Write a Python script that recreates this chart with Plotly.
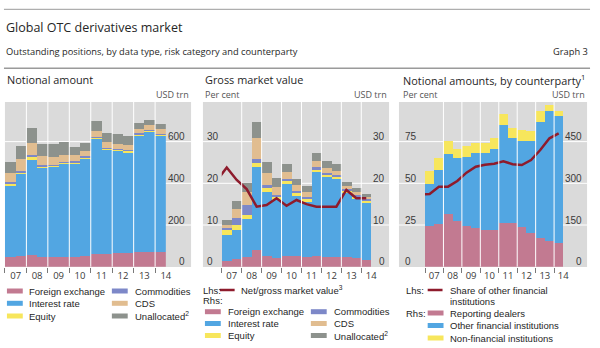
import plotly.graph_objects as go

W, H = 600, 348

# Half-year periods shown on every panel
periods = ["2007 H1", "2007 H2", "2008 H1", "2008 H2", "2009 H1", "2009 H2",
           "2010 H1", "2010 H2", "2011 H1", "2011 H2", "2012 H1", "2012 H2",
           "2013 H1", "2013 H2", "2014 H1"]
year_labels = ["07", "08", "09", "10", "11", "12", "13", "14"]

# Notional amount by risk category, USD trn
na_fx = [46, 53, 56, 48, 45, 46, 48, 53, 59, 59, 64, 64, 69, 69, 70]
na_ir = [345, 392, 458, 428, 435, 447, 448, 467, 554, 501, 491, 485, 560, 579, 557]
na_eq = [8, 8, 10, 6, 6, 6, 6, 6, 7, 6, 6, 6, 7, 7, 7]
na_com = [7, 8, 13, 4, 4, 3, 3, 3, 3, 3, 3, 3, 3, 2, 2]
na_cds = [45, 58, 58, 45, 36, 34, 31, 26, 28, 28, 25, 26, 22, 23, 23]
na_unal = [52, 60, 68, 58, 63, 62, 38, 40, 48, 43, 46, 45, 27, 24, 26]

# Gross market value by risk category, USD trn
gm_fx = [1.3, 1.8, 2.3, 4.1, 2.5, 2.1, 2.5, 2.5, 2.3, 2.6, 2.3, 2.3, 2.4, 2.0, 1.7]
gm_ir = [6.3, 7.0, 9.1, 19.7, 15.5, 14.0, 17.3, 14.5, 13.2, 20.0, 19.1, 18.8, 15.2, 14.2, 13.5]
gm_eq = [1.1, 1.1, 1.1, 1.1, 0.9, 0.7, 0.7, 0.6, 0.7, 0.7, 0.6, 0.6, 0.7, 0.7, 0.7]
gm_com = [0.7, 1.9, 2.2, 0.9, 0.7, 0.5, 0.5, 0.5, 0.5, 0.5, 0.4, 0.4, 0.4, 0.3, 0.3]
gm_cds = [0.7, 2.0, 3.2, 5.1, 2.9, 1.9, 1.7, 1.4, 1.3, 1.6, 1.2, 0.9, 0.7, 0.7, 0.6]
gm_unal = [1.0, 1.9, 2.1, 3.9, 2.5, 2.1, 1.9, 1.6, 1.4, 1.8, 1.8, 1.7, 0.8, 0.9, 0.6]

# Net/gross market value ratio, per cent (series begins in 2006 H2)
ratio_periods = ["2006 H2"] + periods
net_gross = [20.6, 23.8, 20.8, 18.6, 14.4, 14.8, 16.4, 14.6, 16.0, 15.0,
             14.4, 14.4, 14.4, 18.4, 16.4, 16.4]

# Notional amounts by counterparty, USD trn
cp_dealers = [146, 154, 188, 166, 146, 138, 132, 132, 158, 156, 142, 120, 102, 92, 84]
cp_other_fi = [152, 194, 218, 224, 248, 272, 278, 290, 352, 308, 312, 334, 420, 468, 458]
cp_nonfin = [46, 42, 48, 34, 40, 36, 34, 40, 40, 36, 38, 34, 38, 22, 18]

# Share of other financial institutions, per cent
share_ofi = [43.2, 43.6, 48.0, 48.0, 51.4, 56.4, 60.0, 61.2, 61.8, 63.2,
             61.5, 61.0, 64.0, 70.0, 77.0, 80.0]

# Axis tick values
na_ticks = [0, 200, 400, 600]
gm_ticks = [0, 10, 20, 30]
cp_ticks = [0, 150, 300, 450]
pct_ticks = [0, 25, 50, 75]

C_FX = "#c27a91"
C_IR = "#52a6e2"
C_EQ = "#f7e65c"
C_COM = "#7d88c8"
C_CDS = "#e1bd90"
C_UNAL = "#8d928d"
C_LINE = "#8e1b2c"
C_BG = "#dadada"
TXT = "#262626"
TICK = "#3a3a3a"
F_TITLE = "Open Sans"
F_SMALL = "Liberation Sans"


def pos(label):
    """Bar index of a half-year label such as '2008 H2'."""
    year, half = label.split()
    return (int(year) - 2007) * 2 + (int(half[1]) - 1)


xs = [pos(p) for p in periods]
ratio_x = [pos(p) for p in ratio_periods]
year_centers = [pos("20" + y + " H1") + 0.5 for y in year_labels]
year_bounds = [c - 1 for c in year_centers]


def px(x):
    return x / W


def py(y):
    return 1 - y / H


fig = go.Figure()


def add_stack(xref, yref, series):
    for vals, color, name in series:
        fig.add_trace(go.Bar(x=xs, y=vals, marker=dict(color=color, line=dict(width=0)),
                             name=name, xaxis=xref, yaxis=yref, showlegend=False))


add_stack("x", "y", [(na_fx, C_FX, "Foreign exchange"), (na_ir, C_IR, "Interest rate"),
                     (na_eq, C_EQ, "Equity"), (na_com, C_COM, "Commodities"),
                     (na_cds, C_CDS, "CDS"), (na_unal, C_UNAL, "Unallocated")])
add_stack("x2", "y2", [(gm_fx, C_FX, "Foreign exchange"), (gm_ir, C_IR, "Interest rate"),
                       (gm_eq, C_EQ, "Equity"), (gm_com, C_COM, "Commodities"),
                       (gm_cds, C_CDS, "CDS"), (gm_unal, C_UNAL, "Unallocated")])
fig.add_trace(go.Scatter(x=ratio_x, y=net_gross, mode="lines", line=dict(color=C_LINE, width=2.5),
                         xaxis="x2", yaxis="y3", showlegend=False))
add_stack("x3", "y4", [(cp_dealers, C_FX, "Reporting dealers"),
                       (cp_other_fi, C_IR, "Other financial institutions"),
                       (cp_nonfin, C_EQ, "Non-financial institutions")])
fig.add_trace(go.Scatter(x=ratio_x, y=share_ofi, mode="lines", line=dict(color=C_LINE, width=2.5),
                         xaxis="x3", yaxis="y5", showlegend=False))

Y_TOP, Y_BOT = 102, 266.7
ydom = [py(Y_BOT), py(Y_TOP)]


def xaxis_cfg(x0, x1, anchor):
    return dict(domain=[px(x0), px(x1)], anchor=anchor, range=[-0.5, len(periods) - 0.5],
                tickmode="array", tickvals=year_centers, ticktext=year_labels, ticks="",
                showgrid=False, zeroline=False, showline=False, ticklabelstandoff=2,
                tickfont=dict(family=F_TITLE, size=9.5, color=TICK), fixedrange=True,
                minor=dict(tickmode="array", tickvals=year_bounds, ticks="outside", ticklen=5,
                           tickwidth=1, tickcolor="#7a7a7a", showgrid=False))


def yaxis_cfg(anchor, top, vals, side, overlaying=None):
    cfg = dict(domain=ydom, anchor=anchor, range=[0, top], side=side,
               tickmode="array", tickvals=vals, showticklabels=False,
               ticks="", showline=False, zeroline=False, showgrid=False, fixedrange=True)
    if overlaying:
        cfg["overlaying"] = overlaying
    return cfg


fig.update_layout(
    width=W, height=H, autosize=False, margin=dict(l=0, r=0, t=0, b=0),
    paper_bgcolor="white", plot_bgcolor="rgba(0,0,0,0)",
    barmode="stack", bargap=0, showlegend=False,
    xaxis=xaxis_cfg(5, 167.5, "y"),
    yaxis=yaxis_cfg("x", 790, na_ticks, "right"),
    xaxis2=xaxis_cfg(224, 375, "y2"),
    yaxis2=yaxis_cfg("x2", 39.5, gm_ticks, "right"),
    yaxis3=yaxis_cfg("x2", 39.5, gm_ticks, "left", overlaying="y2"),
    xaxis3=xaxis_cfg(429.3, 569, "y4"),
    yaxis4=yaxis_cfg("x3", 592.6, cp_ticks, "right"),
    yaxis5=yaxis_cfg("x3", 98.8, pct_ticks, "left", overlaying="y4"),
)

shapes = []
annotations = []

# grey panel backgrounds with white gridlines running across the whole panel
panels = [((5, 193), "y", na_ticks), ((205, 393), "y2", gm_ticks), ((403, 593), "y4", cp_ticks)]
for (x0, x1), yref, ticks in panels:
    shapes.append(dict(type="rect", xref="paper", yref="paper", x0=px(x0), x1=px(x1),
                       y0=py(267), y1=py(Y_TOP), fillcolor=C_BG, line=dict(width=0), layer="below"))
    for v in ticks[1:]:
        shapes.append(dict(type="line", xref="paper", yref=yref, x0=px(x0), x1=px(x1),
                           y0=v, y1=v, line=dict(color="white", width=1), layer="below"))
# white year separators drawn over the bars
for xr, yr in [("x", "y domain"), ("x2", "y2 domain"), ("x3", "y4 domain")]:
    for b in year_bounds[1:]:
        shapes.append(dict(type="line", xref=xr, yref=yr, x0=b, x1=b, y0=0, y1=1,
                           line=dict(color="white", width=1), layer="above"))
# header rules
shapes.append(dict(type="line", xref="paper", yref="paper", x0=px(4), x1=px(596),
                   y0=py(9.3), y1=py(9.3), line=dict(color="#9a9a9a", width=1)))
shapes.append(dict(type="line", xref="paper", yref="paper", x0=px(4), x1=px(596),
                   y0=py(68.3), y1=py(68.3), line=dict(color="#9a9a9a", width=1.5)))


def value_labels(xdom, yref, vals, side, shift):
    """Tick labels sitting just above each gridline, placed on the axis scale."""
    for v in vals:
        annotations.append(dict(x=1 if side == "right" else 0, xref=xdom, y=v, yref=yref,
                                text=str(v), showarrow=False,
                                xanchor="right" if side == "right" else "left",
                                yanchor="middle", xshift=shift, yshift=5,
                                font=dict(family=F_SMALL, size=10, color=TICK)))


value_labels("x domain", "y", na_ticks, "right", 21.5)
value_labels("x2 domain", "y2", gm_ticks, "right", 16)
value_labels("x2 domain", "y3", gm_ticks, "left", -17)
value_labels("x3 domain", "y4", cp_ticks, "right", 21)
value_labels("x3 domain", "y5", pct_ticks, "left", -22.3)


def text(x, y, s, size=9.5, anchor="left", family=F_SMALL, color=TXT):
    annotations.append(dict(x=px(x), y=py(y), xref="paper", yref="paper", text=s,
                            showarrow=False, xanchor=anchor, yanchor="middle",
                            font=dict(family=family, size=size, color=color)))


def swatch(x, y, color, w=16, h=5):
    shapes.append(dict(type="rect", xref="paper", yref="paper", x0=px(x), x1=px(x + w),
                       y0=py(y + h / 2), y1=py(y - h / 2), fillcolor=color, line=dict(width=0)))


def line_key(x, y, w=15):
    shapes.append(dict(type="line", xref="paper", yref="paper", x0=px(x), x1=px(x + w),
                       y0=py(y), y1=py(y), line=dict(color=C_LINE, width=2.5)))


text(4, 27.7, "Global OTC derivatives market", size=12.5, family=F_TITLE)
text(4, 51.7, "Outstanding positions, by data type, risk category and counterparty", size=9.3, family=F_TITLE)
text(596, 51.7, "Graph 3", size=9.3, anchor="right", family=F_TITLE)

text(5, 80, "Notional amount", size=10.9, family=F_TITLE)
text(205, 80, "Gross market value", size=10.9, family=F_TITLE)
text(405, 80, "Notional amounts, by counterparty<sup>1</sup>", size=10.9, family=F_TITLE)

text(193, 95, "USD trn", size=9, anchor="right", family=F_TITLE, color="#555")
text(205, 95, "Per cent", size=9, family=F_TITLE, color="#555")
text(393, 95, "USD trn", size=9, anchor="right", family=F_TITLE, color="#555")
text(405, 95, "Per cent", size=9, family=F_TITLE, color="#555")
text(593, 95, "USD trn", size=9, anchor="right", family=F_TITLE, color="#555")

# legend, left panel
rows1 = [291, 303.3, 316]
for (lbl, col), y in zip([("Foreign exchange", C_FX), ("Interest rate", C_IR), ("Equity", C_EQ)], rows1):
    swatch(7, y, col)
    text(27, y, lbl)
for (lbl, col), y in zip([("Commodities", C_COM), ("CDS", C_CDS), ("Unallocated<sup>2</sup>", C_UNAL)], rows1):
    swatch(113, y, col)
    text(134, y, lbl)

# legend, middle panel
text(203, 290, "Lhs:")
line_key(222, 290)
text(241, 290, "Net/gross market value<sup>3</sup>")
text(203, 300.5, "Rhs:")
rows2 = [311.7, 323.5, 335.5]
for (lbl, col), y in zip([("Foreign exchange", C_FX), ("Interest rate", C_IR), ("Equity", C_EQ)], rows2):
    swatch(207, y, col)
    text(228, y, lbl)
for (lbl, col), y in zip([("Commodities", C_COM), ("CDS", C_CDS), ("Unallocated<sup>2</sup>", C_UNAL)], rows2):
    swatch(314, y, col)
    text(335, y, lbl)

# legend, right panel
text(408, 290, "Lhs:")
line_key(432, 290)
text(453, 290, "Share of other financial")
text(453, 301, "institutions")
text(408, 313, "Rhs:")
rows3 = [313, 325.5, 338]
for (lbl, col), y in zip([("Reporting dealers", C_FX), ("Other financial institutions", C_IR),
                          ("Non-financial institutions", C_EQ)], rows3):
    swatch(432, y, col)
    text(453, y, lbl)

fig.update_layout(shapes=shapes, annotations=annotations)
fig.write_html("out.html", config={"responsive": False, "displayModeBar": False})
